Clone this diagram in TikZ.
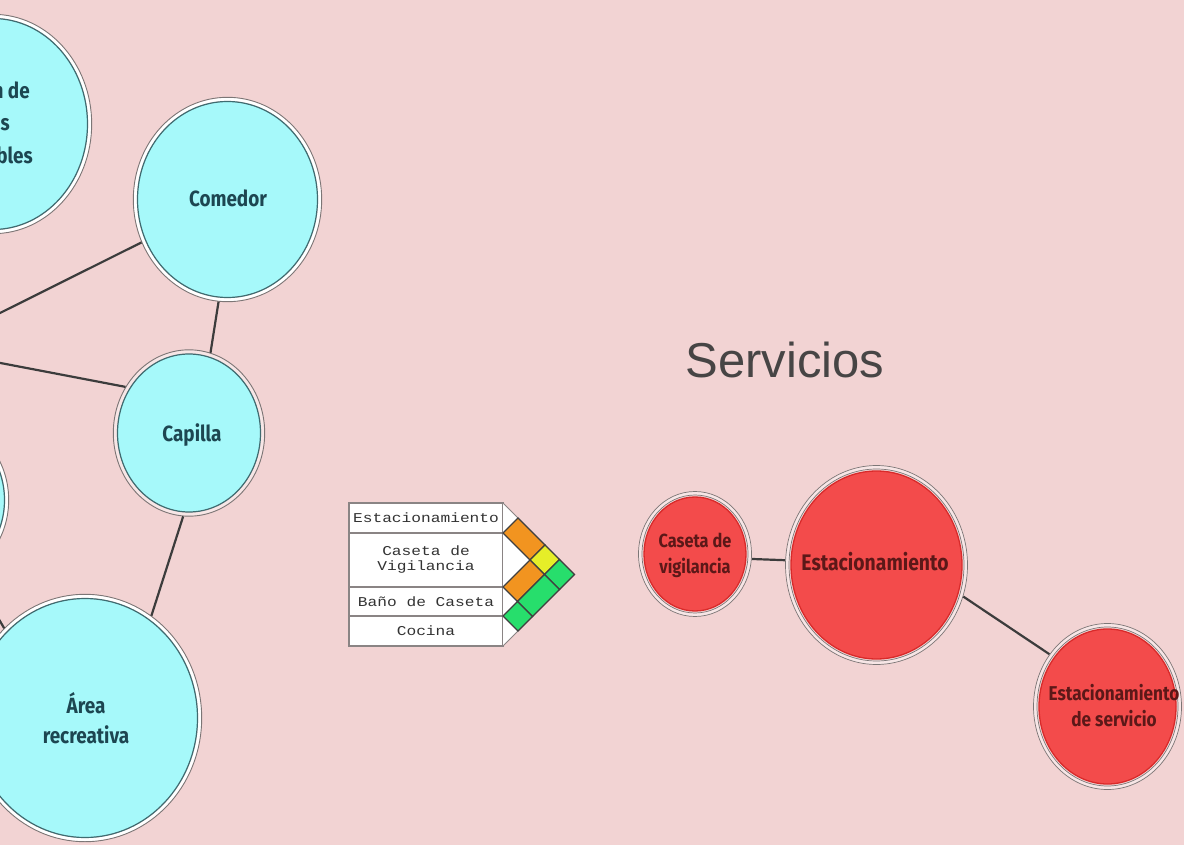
\documentclass[tikz,border=0pt]{standalone}
\usepackage{fontspec}
\setmainfont{Liberation Sans}
\newfontfamily\condfont{Fira Sans}[FakeStretch=0.86]
\newfontfamily\pixfont{Liberation Mono}[FakeStretch=1.2]
\usetikzlibrary{shapes.geometric}
\definecolor{bg}{HTML}{F2D3D3}
\definecolor{cyanfill}{HTML}{A6F9FA}
\definecolor{tealline}{HTML}{3F6B70}
\definecolor{tealtext}{HTML}{1D4651}
\definecolor{ringgray}{HTML}{7C7676}
\definecolor{gapwhite}{HTML}{FFFFFF}
\definecolor{gappink}{HTML}{F7E6E6}
\definecolor{redfill}{HTML}{F34B4B}
\definecolor{redline}{HTML}{D92A2A}
\definecolor{redtext}{HTML}{5C1818}
\definecolor{cellorange}{HTML}{F29420}
\definecolor{cellyellow}{HTML}{E6EE28}
\definecolor{cellgreen}{HTML}{27DE6C}
\definecolor{titlegray}{HTML}{474545}
\definecolor{linegray}{HTML}{3C3C3C}
\definecolor{boxgray}{HTML}{8A8484}
\definecolor{pixtext}{HTML}{333333}

\newcommand\cyanbubble[6][gapwhite]{%
  \draw[draw=#1, line width=3.2pt] (#3,#4) ellipse [x radius=#5+2.3, y radius=#6+2.3];
  \draw[ringgray, line width=.9pt] (#3,#4) ellipse [x radius=#5+4.2, y radius=#6+4.2];
  \node[cybub, minimum width=2*#5pt, minimum height=2*#6pt] (#2) at (#3,#4) {};
}
\newcommand\redbubble[5]{%
  \draw[draw=gappink, line width=4pt] (#2,#3) ellipse [x radius=#4+3.5, y radius=#5+3.5];
  \draw[ringgray, line width=.7pt] (#2,#3) ellipse [x radius=#4+2, y radius=#5+2];
  \draw[ringgray, line width=.7pt] (#2,#3) ellipse [x radius=#4+5.5, y radius=#5+5.5];
  \node[rdbub, minimum width=2*#4pt, minimum height=2*#5pt] (#1) at (#2,#3) {};
}

\begin{document}
\begin{tikzpicture}[x=1pt,y=-1pt,
  cybub/.style={ellipse, fill=cyanfill, draw=tealline, line width=1.2pt, inner sep=0pt, outer sep=4.6pt},
  rdbub/.style={ellipse, fill=redfill, draw=redline, line width=1.3pt, inner sep=0pt, outer sep=6pt},
  cytext/.style={font=\condfont\bfseries\fontsize{22}{30}\selectfont, text=tealtext, align=center, inner sep=0pt},
  rdtext/.style={font=\condfont\bfseries\fontsize{#1}{26}\selectfont, text=redtext, align=center, inner sep=0pt},
  link/.style={draw=linegray, line width=2.2pt},
  rowbox/.style={draw=boxgray, line width=1.2pt, fill=white, minimum width=154pt, inner sep=0pt, text=pixtext, align=center, font=\pixfont\fontsize{13.5}{15}\selectfont},
  cell/.style={draw=black!75, line width=1.1pt},
  title/.style={font=\fontsize{49}{52}\selectfont, text=titlegray, inner sep=0pt}
]
\useasboundingbox (0,0) rectangle (1184,845);
\clip (0,0) rectangle (1184,845);
\fill[bg] (0,0) rectangle (1184,845);

% off-frame connector ends
\coordinate (w1) at (-10,318);
\coordinate (w2) at (-10,361);
\coordinate (w3) at (-10,604);

% cyan bubbles
\cyanbubble{tl}{-7}{124}{94.5}{105.5}
\cyanbubble{ml}{-66}{500}{70.5}{77.5}
\cyanbubble{comedor}{227.5}{199.5}{90}{98}
\cyanbubble[gappink]{capilla}{189}{433}{71.5}{79}
\cyanbubble{area}{85}{718}{112.5}{119.5}

\node[cytext, anchor=base east] (tl-a) at (30,99) {n de};
\node[cytext, anchor=base east] (tl-b) at (10,131) {s};
\node[cytext, anchor=base east] (tl-c) at (33,164) {bles};
\node[cytext] (comedor-t) at (228,198) {Comedor};
\node[cytext] (capilla-t) at (192,435) {Capilla};
\node[cytext] (area-t) at (86,718) {Área\\recreativa};

\draw[link] (w1) -- (comedor);
\draw[link] (w2) -- (capilla.144);
\draw[link] (w3) -- (area.132);
\draw[link] (comedor.-95) -- (capilla.75);
\draw[link] (capilla.-94) -- (area.57);

% relation matrix
\node[rowbox, minimum height=30pt] (r1) at (426,518) {Estacionamiento};
\node[rowbox, minimum height=54pt] (r2) at (426,560) {Caseta de\\Vigilancia};
\node[rowbox, minimum height=29pt] (r3) at (426,601.5) {Baño de Caseta};
\node[rowbox, minimum height=30pt] (r4) at (426,631) {Cocina};
\draw[boxgray, line width=1pt, fill=white] (503,503) -- (574.5,574.5) -- (503,646);
\draw[cell, fill=cellorange] (518,518) -- (503,533) -- (530,560) -- (545,545) -- cycle;
\draw[cell, fill=cellyellow] (545,545) -- (530,560) -- (544.5,574.5) -- (559.5,559.5) -- cycle;
\draw[cell, fill=cellgreen] (559.5,559.5) -- (544.5,574.5) -- (559.5,589.5) -- (574.5,574.5) -- cycle;
\draw[cell, fill=cellorange] (530,560) -- (503,587) -- (517.5,601.5) -- (544.5,574.5) -- cycle;
\draw[cell, fill=cellgreen] (544.5,574.5) -- (517.5,601.5) -- (532.5,616.5) -- (559.5,589.5) -- cycle;
\draw[cell, fill=cellgreen] (517.5,601.5) -- (503,616) -- (518,631) -- (532.5,616.5) -- cycle;

% Servicios
\node[title, anchor=base] (titulo) at (785,377) {Servicios};

\redbubble{caseta}{695}{554}{51}{57}
\redbubble{estac}{876.5}{565}{85.5}{94}
\redbubble{serv}{1107.5}{706.5}{68.5}{77.5}

\node[rdtext=19] (caseta-t) at (695,555) {Caseta de\\vigilancia};
\node[rdtext=22.5] (estac-t) at (875,562) {Estacionamiento};
\node[rdtext=20] (serv-t) at (1114,706) {Estacionamiento\\de servicio};

\draw[link] (caseta.-5) -- (estac.177);
\draw[link] (estac.-20) -- (serv.138);
\end{tikzpicture}
\end{document}
